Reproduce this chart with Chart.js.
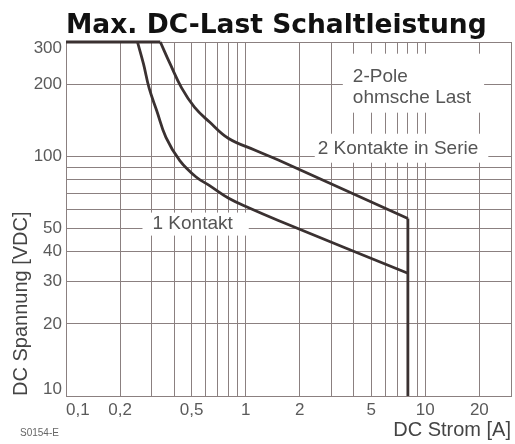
<!DOCTYPE html>
<html>
<head>
<meta charset="utf-8">
<title>Max. DC-Last Schaltleistung</title>
<script src="https://cdn.jsdelivr.net/npm/chart.js@4.4.1/dist/chart.umd.min.js"></script>
<style>
  body { margin: 0; background: #fff; }
  #chartDiv { width: 515px; height: 444px; }
</style>
</head>
<body>
<div id="chartDiv"><canvas id="myChart"></canvas></div>
<script>
// waagrechte Grenze bei 300 VDC
const stromOben = [0.1, 0.335];
const spannungOben = [300, 300];

// Kurve "1 Kontakt": Strom [A] / Spannung [VDC]
const strom1Kontakt = [0.25, 0.27, 0.29, 0.32, 0.36, 0.43, 0.53, 0.63, 0.8, 1.04, 1.52, 8];
const spannung1Kontakt = [300, 243, 193, 155, 120, 96, 82, 75.5, 67, 61, 54, 32.5];

// Kurve "2 Kontakte in Serie"
const strom2Kontakte = [0.335, 0.38, 0.44, 0.52, 0.63, 0.8, 1.13, 1.52, 8];
const spannung2Kontakte = [300, 243, 193, 160, 139, 119, 106, 96.5, 55];

// senkrechte Grenze bei 8 A
const stromGrenze = [8, 8];
const spannungGrenze = [55, 10];

// Gitter und Achsbeschriftung
const xGitter = [0.1, 0.2, 0.3, 0.4, 0.5, 0.6, 0.7, 0.8, 0.9, 1, 2, 3, 4, 5, 6, 7, 8, 9, 10, 20, 30];
const xTickWerte = [0.1, 0.2, 0.5, 1, 2, 5, 10, 20];
const xTickText = ['0,1', '0,2', '0,5', '1', '2', '5', '10', '20'];
const yGitter = [10, 20, 30, 40, 50, 60, 70, 80, 90, 100, 200, 300];
const yTickWerte = [10, 20, 30, 40, 50, 100, 200, 300];

// Textfelder im Diagramm (Anker in A / VDC, Rand in px: links, rechts, oben, unten)
const beschriftungen = [
    { zeilen: ['2-Pole', 'ohmsche Last'], strom: 3.95, spannung: 215, rand: [10, 13, 23, 15] },
    { zeilen: ['2 Kontakte in Serie'], strom: 2.52, spannung: 107.6, rand: [3, 10, 15, 14] },
    { zeilen: ['1 Kontakt'], strom: 0.303, spannung: 52.4, rand: [10, 16, 11, 12] }
];

const schrift = '"Liberation Sans", Arial, sans-serif';
const gitterFarbe = '#8b8080';
const kurvenFarbe = '#3a3131';

function punkte(xs, ys) {
    return xs.map((x, i) => ({ x: x, y: ys[i] }));
}

const textfelder = {
    id: 'textfelder',
    beforeDatasetsDraw(chart) {
        const ctx = chart.ctx;
        const xs = chart.scales.x;
        const ys = chart.scales.y;
        ctx.save();
        ctx.font = '19px ' + schrift;
        ctx.textBaseline = 'middle';
        ctx.textAlign = 'left';
        beschriftungen.forEach(b => {
            const x = xs.getPixelForValue(b.strom);
            const y = ys.getPixelForValue(b.spannung);
            const w = Math.max(...b.zeilen.map(z => ctx.measureText(z).width));
            const h = (b.zeilen.length - 1) * 21;
            ctx.fillStyle = '#fff';
            ctx.fillRect(x - b.rand[0], y - b.rand[2], w + b.rand[0] + b.rand[1], h + b.rand[2] + b.rand[3]);
            ctx.fillStyle = '#555';
            b.zeilen.forEach((z, i) => ctx.fillText(z, x, y + i * 21));
        });
        ctx.font = '10px ' + schrift;
        ctx.fillStyle = '#666';
        ctx.fillText('S0154-E', 20, 433);
        ctx.restore();
    }
};

const linie = {
    borderColor: kurvenFarbe,
    borderWidth: 2.8,
    pointRadius: 0,
    fill: false,
    clip: 4
};

let myChart = document.getElementById('myChart').getContext('2d');
let lineChart = new Chart(myChart, {
    type: 'line',
    data: {
        datasets: [
            Object.assign({ label: 'Oben', data: punkte(stromOben, spannungOben), tension: 0 }, linie),
            Object.assign({ label: '1 Kontakt', data: punkte(strom1Kontakt, spannung1Kontakt), tension: 0.4 }, linie),
            Object.assign({ label: '2 Kontakte in Serie', data: punkte(strom2Kontakte, spannung2Kontakte), tension: 0.4 }, linie),
            Object.assign({ label: 'Grenze', data: punkte(stromGrenze, spannungGrenze), tension: 0 }, linie)
        ]
    },
    options: {
        responsive: true,
        maintainAspectRatio: false,
        devicePixelRatio: 1,
        animation: false,
        layout: { padding: { left: 0, right: 2, top: 0, bottom: 0 } },
        plugins: {
            legend: { display: false },
            tooltip: { enabled: false },
            title: {
                display: true,
                text: 'Max. DC-Last Schaltleistung',
                align: 'start',
                fullSize: false,
                color: '#111',
                font: { family: '"DejaVu Sans", sans-serif', weight: 'bold', size: 26.5, lineHeight: 1.2 },
                padding: { top: 10, bottom: 0.2 }
            }
        },
        scales: {
            x: {
                type: 'logarithmic',
                min: 0.1,
                max: 30,
                afterBuildTicks: s => { s.ticks = xGitter.map(v => ({ value: v })); },
                afterFit: s => { s.height = 48; },
                grid: { color: gitterFarbe, lineWidth: 1, drawTicks: false },
                border: { color: gitterFarbe, width: 1 },
                ticks: {
                    autoSkip: false,
                    maxRotation: 0,
                    align: 'inner',
                    padding: 4,
                    color: '#5a5a5a',
                    font: { family: schrift, size: 17 },
                    callback: v => {
                        const i = xTickWerte.indexOf(v);
                        return i < 0 ? '' : xTickText[i];
                    }
                },
                title: {
                    display: true,
                    text: 'DC Strom [A]',
                    align: 'end',
                    color: '#444',
                    font: { family: schrift, size: 20 },
                    padding: { top: 0, bottom: 2 }
                }
            },
            y: {
                type: 'logarithmic',
                min: 10,
                max: 300,
                afterBuildTicks: s => { s.ticks = yGitter.map(v => ({ value: v })); },
                afterFit: s => { s.width = 66; },
                grid: { color: gitterFarbe, lineWidth: 1, drawTicks: false },
                border: { color: gitterFarbe, width: 1 },
                ticks: {
                    autoSkip: false,
                    padding: 4,
                    color: '#5a5a5a',
                    font: c => {
                        const v = c.tick ? c.tick.value : 0;
                        return { family: schrift, size: 17, lineHeight: (v === 300 || v === 10) ? 0.75 : 1.2 };
                    },
                    callback: v => {
                        if (!yTickWerte.includes(v)) return '';
                        // oberste und unterste Zahl nach innen schieben
                        if (v === 300) return ['', '300'];
                        if (v === 10) return ['10', ''];
                        return String(v);
                    }
                },
                title: {
                    display: true,
                    text: 'DC Spannung [VDC]',
                    align: 'start',
                    color: '#444',
                    font: { family: schrift, size: 20 },
                    padding: { top: 9, bottom: 0 }
                }
            }
        }
    },
    plugins: [textfelder]
});
</script>
</body>
</html>
